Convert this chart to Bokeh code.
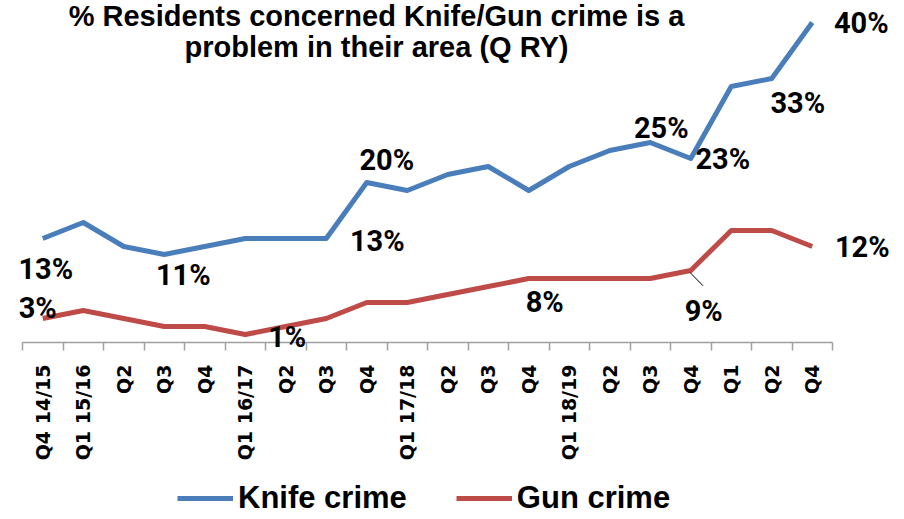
import math
from bokeh.plotting import figure
from bokeh.models import (Range1d, FixedTicker, LabelSet, Label, ColumnDataSource,
                          Legend, LegendItem, LinearAxis)
from bokeh.core.properties import value
from bokeh.embed import file_html
from bokeh.resources import INLINE

# ---------------- data ----------------
categories = ["Q4 14/15", "Q1 15/16", "Q2", "Q3", "Q4", "Q1 16/17", "Q2", "Q3", "Q4",
              "Q1 17/18", "Q2", "Q3", "Q4", "Q1 18/19", "Q2", "Q3", "Q4", "Q1", "Q2", "Q4"]
knife = [13, 15, 12, 11, 12, 13, 13, 13, 20, 19, 21, 22, 19, 22, 24, 25, 23, 32, 33, 40]
gun = [3, 4, 3, 2, 2, 1, 2, 3, 5, 5, 6, 7, 8, 8, 8, 8, 9, 14, 14, 12]

knife_label_idx = [0, 3, 7, 8, 15, 16, 18, 19]
gun_label_idx = [0, 5, 12, 16, 19]

title_lines = ["% Residents concerned Knife/Gun crime is a", "problem in their area (Q RY)"]
series_names = ["Knife crime", "Gun crime"]

# ---------------- styles / layout ----------------
KNIFE_COLOR = "#4A7EBB"
GUN_COLOR = "#BE4B48"
AXIS_COLOR = "#a0a0a0"

W, H = 900, 516
PLOT_LEFT = 22      # px, left end of the category axis
AXIS_Y = 342        # px, position of the 0% line
PX_X = 40.5         # px per category
PX_Y = 8.0          # px per percent

# pixel offsets (right, down) of data labels from their points
knife_off = [(3, 30), (19, 20), (51, 2), (20, -23), (11, -15), (32, 0), (26, 24), (49, 0)]
gun_off = [(-5, -11), (42, 2), (16, 23), (13, 40), (50, 0)]

xs = list(range(len(categories)))

x0 = -0.5 - PLOT_LEFT / PX_X
y1 = AXIS_Y / PX_Y
p = figure(width=W, height=H, output_backend="svg", toolbar_location=None,
           x_range=Range1d(x0, x0 + W / PX_X), y_range=Range1d(y1 - H / PX_Y, y1),
           x_axis_type=None, y_axis_type=None,
           min_border_left=0, min_border_right=0, min_border_top=0, min_border_bottom=0)
p.outline_line_color = None
p.background_fill_color = "white"
p.border_fill_color = "white"

r_knife = p.line(xs, knife, line_width=5, line_color=KNIFE_COLOR, line_join="round")
r_gun = p.line(xs, gun, line_width=5, line_color=GUN_COLOR, line_join="round")

# x axis: labels at category centres, tick marks at category boundaries
ax = LinearAxis(fixed_location=0, bounds=(-0.5, len(categories) - 0.5))
ax.ticker = FixedTicker(ticks=xs, minor_ticks=[i - 0.5 for i in range(len(categories) + 1)])
ax.major_label_overrides = {i: c for i, c in enumerate(categories)}
ax.major_tick_out = 0
ax.major_tick_in = 0
ax.minor_tick_out = 8
ax.minor_tick_in = 0
ax.minor_tick_line_color = AXIS_COLOR
ax.axis_line_color = AXIS_COLOR
ax.axis_line_width = 1.5
ax.minor_tick_line_width = 1.5
ax.major_label_orientation = math.pi / 2
ax.major_label_standoff = 14
ax.major_label_text_font = "DejaVu Sans"
ax.major_label_text_font_style = "bold"
ax.major_label_text_font_size = "19px"
ax.major_label_text_color = "black"
p.add_layout(ax, "below")

# data labels
def label_source(vals, idx, off):
    return ColumnDataSource(dict(
        x=[xs[i] for i in idx],
        y=[vals[i] for i in idx],
        text=[f"{vals[i]}%" for i in idx],
        dx=[o[0] for o in off],
        dy=[-o[1] for o in off],
    ))

for src in (label_source(knife, knife_label_idx, knife_off),
            label_source(gun, gun_label_idx, gun_off)):
    p.add_layout(LabelSet(x="x", y="y", text="text", x_offset="dx", y_offset="dy",
                          source=src, text_align="center", text_baseline="middle",
                          text_font=value("Roboto"), text_font_style="bold",
                          text_font_size="29px", text_color="black"))

# leader line for the 9% label
i9 = gun_label_idx[3]
p.segment(x0=[xs[i9] - 0.7 / PX_X], y0=[gun[i9] - 2 / PX_Y],
          x1=[xs[i9] + 12.3 / PX_X], y1=[gun[i9] - 15.3 / PX_Y],
          line_color="black", line_width=1)

# title (two centred lines)
title_cx = (376 - PLOT_LEFT) / PX_X - 0.5
for k, line in enumerate(title_lines):
    cy = (AXIS_Y - (15 + 31.5 * k)) / PX_Y
    p.add_layout(Label(x=title_cx, y=cy, text=line, text_align="center",
                       text_baseline="middle", text_font="Liberation Sans",
                       text_font_style="bold", text_font_size="29px", text_color="black"))

# legend
legend = Legend(items=[LegendItem(label=series_names[0], renderers=[r_knife]),
                       LegendItem(label=series_names[1], renderers=[r_gun])],
                orientation="horizontal", location=(177, 0),
                glyph_width=56, glyph_height=36, label_height=36, label_standoff=5,
                spacing=49, padding=0, margin=0,
                label_text_font="Liberation Sans", label_text_font_style="bold",
                label_text_font_size="31px", label_text_color="black",
                border_line_alpha=0, background_fill_alpha=0)
p.add_layout(legend, "center")

open("out.html", "w").write(file_html(p, INLINE))
